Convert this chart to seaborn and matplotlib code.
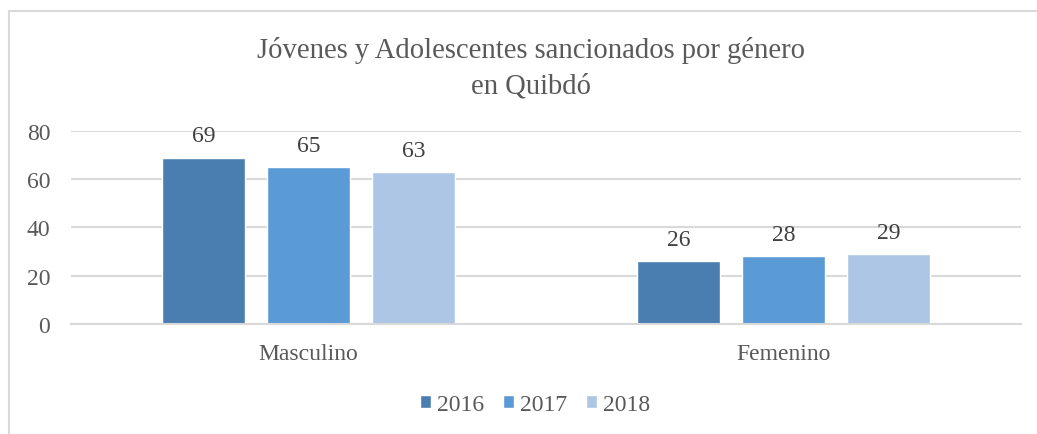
import matplotlib
matplotlib.use("Agg")
import matplotlib.pyplot as plt
import seaborn as sns
import pandas as pd
from matplotlib.patches import Rectangle

categories = ["Masculino", "Femenino"]
years = ["2016", "2017", "2018"]
values_2016 = [69, 26]
values_2017 = [65, 28]
values_2018 = [63, 29]
yticks = [0, 20, 40, 60, 80]

series = {"2016": values_2016, "2017": values_2017, "2018": values_2018}
rows = []
for y in years:
    for c, v in zip(categories, series[y]):
        rows.append({"Género": c, "Año": y, "Valor": v})
df = pd.DataFrame(rows)

sns.set_theme(style="white")
plt.rcParams['font.family'] = ['Liberation Serif', 'DejaVu Serif']
text_color = "#595959"

fig = plt.figure(figsize=(10.37, 4.35), dpi=100)
ax = fig.add_axes([0.0685, 0.2529, 0.9161, 0.4437])

palette = ["#4a7eb0", "#5b9bd5", "#adc6e5"]
sns.barplot(data=df, x="Género", y="Valor", hue="Año", hue_order=years,
            order=categories, palette=palette, width=0.663, gap=0.21,
            saturation=1, ax=ax, legend=True)

ax.set_xlim(-0.5, 1.5)
ax.set_ylim(0, 80)
ax.set_yticks(yticks)
ax.set_yticklabels([str(t) for t in yticks], fontsize=17, color=text_color)
ax.tick_params(axis="x", labelsize=17, colors=text_color, length=0, pad=14)
ax.tick_params(axis="y", length=0, pad=15)
for lab in ax.get_xticklabels():
    lab.set_color(text_color)
ax.set_xlabel("")
ax.set_ylabel("")
ax.yaxis.grid(True, color="#d9d9d9", linewidth=1.5)
ax.set_axisbelow(True)
for s in ["top", "right", "left"]:
    ax.spines[s].set_visible(False)
ax.spines["bottom"].set_color("#d9d9d9")
ax.spines["bottom"].set_linewidth(1.5)

for cont in ax.containers:
    ax.bar_label(cont, fmt="%d", padding=8, fontsize=17, color="#404040")

handles, labels = ax.get_legend_handles_labels()
ax.get_legend().remove()
fig.legend(handles, labels, loc="center", bbox_to_anchor=(0.516, 0.068), ncol=3,
           frameon=False, fontsize=17, handlelength=0.47, handleheight=0.47,
           handletextpad=0.25, columnspacing=0.8, labelcolor=text_color)

fig.text(531/1037, 1 - 50/435, "Jóvenes y Adolescentes sancionados por género",
         ha="center", va="center", fontsize=20.6, color=text_color)
fig.text(531/1037, 1 - 86/435, "en Quibdó",
         ha="center", va="center", fontsize=20.6, color=text_color)

fig.patches.append(Rectangle((9/1037, -0.1), 1.2, 1 - 12/435 + 0.1,
                             transform=fig.transFigure, fill=False,
                             edgecolor="#d9d9d9", linewidth=1.5, zorder=-1))

fig.savefig("out.png", dpi=100)
